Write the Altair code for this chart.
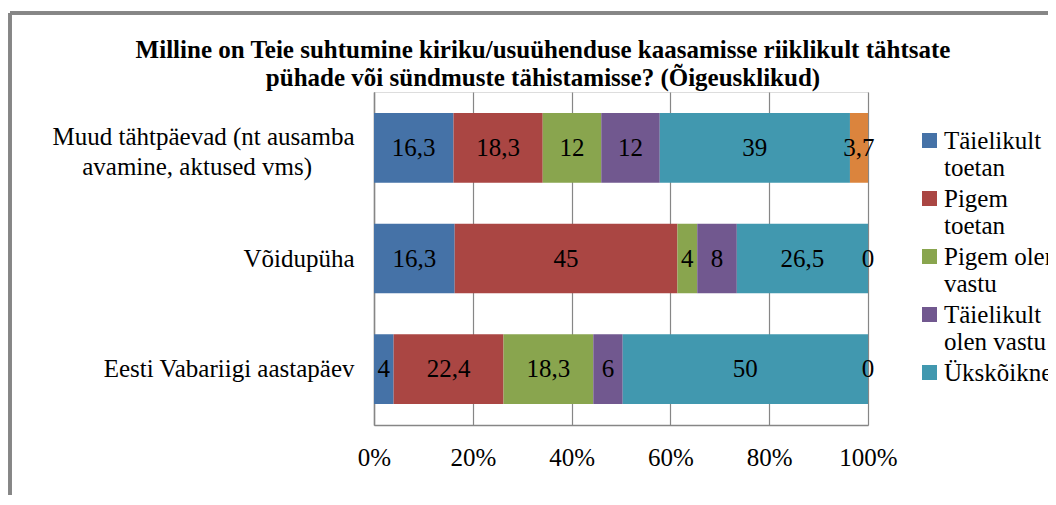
import altair as alt
import pandas as pd

categories = [
    "Muud tähtpäevad (nt ausamba avamine, aktused vms)",
    "Võidupüha",
    "Eesti Vabariigi aastapäev",
]
series = [
    "Täielikult toetan",
    "Pigem toetan",
    "Pigem olen vastu",
    "Täielikult olen vastu",
    "Ükskõikne",
    "Ei oska öelda",
]
colors = ["#4572A7", "#AA4643", "#89A54E", "#71588F", "#4198AF", "#DB843D"]
values = {
    "Muud tähtpäevad (nt ausamba avamine, aktused vms)": [16.3, 18.3, 12, 12, 39, 3.7],
    "Võidupüha": [16.3, 45, 4, 8, 26.5, 0],
    "Eesti Vabariigi aastapäev": [4, 22.4, 18.3, 6, 50, 0],
}
labels = {
    "Muud tähtpäevad (nt ausamba avamine, aktused vms)": ["16,3", "18,3", "12", "12", "39", "3,7"],
    "Võidupüha": ["16,3", "45", "4", "8", "26,5", "0"],
    "Eesti Vabariigi aastapäev": ["4", "22,4", "18,3", "6", "50", "0"],
}
title_lines = [
    "Milline on Teie suhtumine kiriku/usuühenduse kaasamisse riiklikult tähtsate",
    "pühade või sündmuste tähistamisse? (Õigeusklikud)",
]

rows = []
for c in categories:
    for i, s in enumerate(series):
        rows.append({"category": c, "series": s, "order": i,
                     "value": values[c][i], "label": labels[c][i]})
df = pd.DataFrame(rows)

FONT = "Liberation Serif"
FS = 25
W, H = 494, 333
LONG = categories[0]

base = alt.Chart(df).transform_stack(
    stack="value", groupby=["category"], as_=["v0", "v1"],
    sort=[alt.SortField("order", order="ascending")]
).transform_joinaggregate(
    total="sum(value)", groupby=["category"]
).transform_calculate(
    x0="datum.v0 / datum.total",
    x1="datum.v1 / datum.total",
    mid="(datum.v0 + datum.v1) / 2 / datum.total",
)

y_enc = alt.Y(
    "category:N", sort=categories, title=None,
    scale=alt.Scale(paddingInner=0.37, paddingOuter=0.19),
    axis=alt.Axis(
        labelFont=FONT, labelFontSize=FS, labelColor="black", labelLimit=400,
        labelPadding=20, ticks=False, domainColor="#868686", domainWidth=1.5,
        labelLineHeight=30,
        labelOffset={"condition": {"test": f"datum.value == '{LONG}'", "value": -11}, "value": 0},
        labelExpr=f"datum.value == '{LONG}' ? ['Muud tähtpäevad (nt ausamba', 'avamine, aktused vms)\u2003\u2002\u2009\u2060'] : datum.value",
    ),
)

bars = base.mark_bar(clip=False).encode(
    x=alt.X("x0:Q", title=None,
            scale=alt.Scale(domain=[0, 1], nice=False),
            axis=alt.Axis(format="%", values=[0, 0.2, 0.4, 0.6, 0.8, 1.0],
                          labelFont=FONT, labelFontSize=FS, labelColor="black",
                          labelPadding=20, ticks=False, grid=True,
                          gridColor="#868686", gridWidth=1.2,
                          domainColor="#868686", domainWidth=1.5,
                          labelFlush=False)),
    x2="x1:Q",
    y=y_enc,
    color=alt.Color("series:N", sort=series,
                    scale=alt.Scale(domain=series, range=colors),
                    legend=alt.Legend(
                        title=None, values=series[:5], orient="none",
                        legendX=543, legendY=36,
                        symbolType="square", symbolSize=225,
                        symbolStrokeWidth=0, symbolOpacity=1,
                        labelFont=FONT, labelFontSize=FS, labelColor="black",
                        labelLimit=300, labelOffset=2, rowPadding=5,
                        labelExpr="datum.label == 'Täielikult toetan' ? ['Täielikult', 'toetan'] : datum.label == 'Pigem toetan' ? ['Pigem', 'toetan'] : datum.label == 'Pigem olen vastu' ? ['Pigem olen', 'vastu'] : datum.label == 'Täielikult olen vastu' ? ['Täielikult', 'olen vastu'] : datum.label",
                    )),
    order=alt.Order("order:Q"),
)

text = base.mark_text(font=FONT, fontSize=FS, color="black", baseline="middle").encode(
    x=alt.X("mid:Q"),
    y=alt.Y("category:N", sort=categories),
    text="label:N",
)

frame_top = alt.Chart(df).mark_rule(color="#868686", strokeWidth=2.5).encode(
    x=alt.value(-364), x2=alt.value(760), y=alt.value(-79)
)
frame_left = alt.Chart(df).mark_rule(color="#868686", strokeWidth=2.5).encode(
    x=alt.value(-364), y=alt.value(-79), y2=alt.value(420)
)

chart = alt.layer(frame_top, frame_left, bars, text).properties(
    width=W, height=H,
    title=alt.TitleParams(
        text=title_lines, font=FONT, fontSize=25, fontWeight="bold",
        color="black", anchor="middle", frame="group", dx=-78, offset=-79,
        lineHeight=28,
    ),
    padding={"left": 366, "top": 84, "right": 180, "bottom": 70},
    autosize=alt.AutoSizeParams(type="none"),
).configure_view(stroke=None).configure(
    background="white", font=FONT
).configure_text(font=FONT).configure_legend(labelFont=FONT)

chart.save("out.html", embed_options={"renderer": "svg", "actions": False})
